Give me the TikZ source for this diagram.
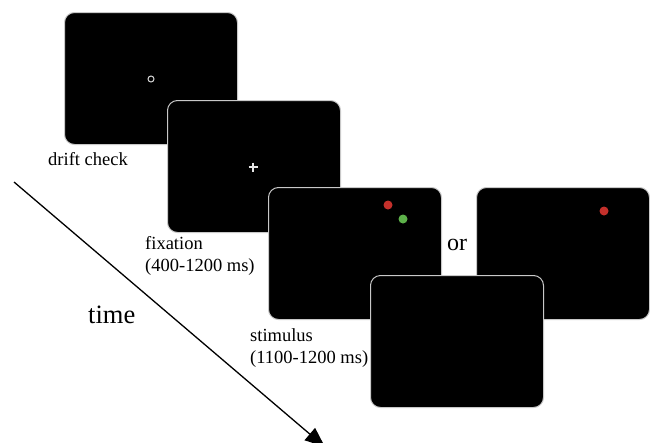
\documentclass[tikz,border=0pt]{standalone}
\usepackage{fontspec}
\setmainfont{Liberation Serif}
\usetikzlibrary{arrows.meta}
\definecolor{dotred}{HTML}{C4302B}
\definecolor{dotgreen}{HTML}{5DB14A}
\definecolor{frame}{HTML}{C8C8C8}
\begin{document}
\begin{tikzpicture}[x=1pt,y=-1pt,
  screen/.style={draw=frame,line width=1pt,fill=black,rounded corners=10pt,
    minimum width=173pt,minimum height=132pt,inner sep=0pt,anchor=north west},
  lbl/.style={font=\fontsize{18.5}{21.5}\selectfont,anchor=base west,inner sep=0pt,align=left},
  dot/.style={circle,inner sep=0pt,minimum size=9pt}]
\useasboundingbox (0,0) rectangle (650,442);
\begin{scope}
\clip (0,0) rectangle (650,442);
\coordinate (tstart) at (14,182);
\coordinate (tend) at (325,447);
\draw[line width=1.3pt,-{Triangle[length=20pt,width=16pt]}] (tstart) -- (tend);
\end{scope}
\node[screen] (s1) at (64,12) {};
\node[screen] (s2) at (167,100) {};
\node[screen] (s3) at (268,187) {};
\node[screen] (s5) at (476,187) {};
\node[screen] (s4) at (370,275) {};
\node[circle,draw=white!85!black,line width=1pt,minimum size=6pt,inner sep=0pt] (fixcirc) at (151,79) {};
\node[inner sep=0pt] (cross) at (253,167) {};
\draw[white!90!black,line width=1.4pt] (cross.center) ++(-4.5,0) -- ++(9,0);
\draw[white!90!black,line width=1.4pt] (cross.center) ++(0,-4.5) -- ++(0,9);
\node[dot,fill=dotred] (r1) at (388,205) {};
\node[dot,fill=dotgreen] (g1) at (403,219) {};
\node[dot,fill=dotred] (r2) at (604,211) {};
\node[font=\fontsize{24}{28}\selectfont,inner sep=0pt,anchor=base] (or) at (457,250) {or};
\node[lbl] (ldrift) at (48,165) {drift check};
\node[lbl] (lfix) at (145,271) {fixation\\(400-1200 ms)};
\node[lbl] (lstim) at (250,363) {stimulus\\(1100-1200 ms)};
\node[font=\fontsize{26.5}{30}\selectfont,inner sep=0pt,anchor=base west] (ltime) at (88,323) {time};
\end{tikzpicture}
\end{document}
